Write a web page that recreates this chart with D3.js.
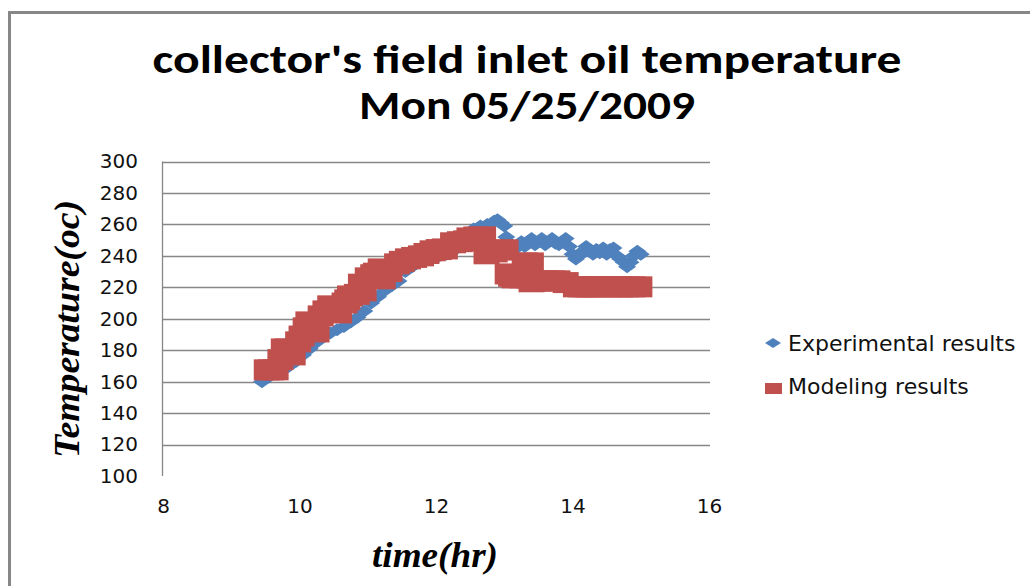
<!DOCTYPE html>
<html>
<head>
<meta charset="utf-8">
<script src="https://cdn.jsdelivr.net/npm/d3@7"></script>
<style>
  body { margin: 0; background: #fff; }
  .tick text { font-family: "DejaVu Sans", Verdana, sans-serif; font-size: 20px; fill: #111; }
</style>
</head>
<body>
<svg id="chart"></svg>
<script>
// chart text
const titleLines = ["collector's field inlet oil temperature", "Mon 05/25/2009"];
const xLabel = "time(hr)", yLabel = "Temperature(oc)";
const seriesNames = ["Experimental results", "Modeling results"];
const xTicks = [8, 10, 12, 14, 16];
const yTicks = [100, 120, 140, 160, 180, 200, 220, 240, 260, 280, 300];

const expTime = [9.45, 9.55, 9.65, 9.75, 9.85, 9.95, 10.05, 10.15, 10.25, 10.35, 10.45, 10.55, 10.65, 10.75,
  10.85, 10.95, 11.05, 11.15, 11.25, 11.35, 11.45, 11.55, 11.65, 11.75, 11.85, 11.95, 12.05, 12.15, 12.25,
  12.35, 12.45, 12.55, 12.65, 12.75, 12.85, 12.90, 12.95, 13.00, 13.03, 13.08, 13.10, 13.15, 13.20, 13.25,
  13.30, 13.35, 13.40, 13.45, 13.50, 13.55, 13.60, 13.65, 13.70, 13.75, 13.80, 13.85, 13.90, 13.95, 14.00,
  14.05, 14.10, 14.15, 14.20, 14.25, 14.30, 14.35, 14.40, 14.45, 14.50, 14.55, 14.60, 14.65, 14.70, 14.75,
  14.80, 14.85, 14.90, 14.95, 15.00];
const expTemp = [160, 163, 165, 167, 170, 173, 177, 181, 185, 189, 191, 193, 195, 198,
  201, 205, 210, 214, 218, 221, 224, 230, 233, 236, 238, 239, 240, 241, 243,
  247, 252, 257, 259, 260, 262, 263, 261, 259, 252, 248, 246, 244, 247, 249,
  246, 248, 251, 247, 249, 251, 247, 249, 251, 248, 247, 249, 251, 246, 241,
  238, 240, 243, 246, 243, 241, 244, 242, 245, 241, 244, 245, 240, 238, 236,
  233, 236, 240, 243, 241];

// Modeling results (red squares)
const modTime = [9.52, 9.58, 9.65, 9.72, 9.77, 9.83, 9.90, 9.98, 10.03, 10.09, 10.13, 10.18, 10.25, 10.31,
  10.38, 10.45, 10.50, 10.58, 10.66, 10.70, 10.74, 10.84, 10.90, 10.94, 11.00, 11.08, 11.12, 11.19, 11.22,
  11.32, 11.43, 11.50, 11.59, 11.68, 11.78, 11.86, 11.95, 12.04, 12.13, 12.25, 12.35, 12.44, 12.49, 12.59,
  12.69, 12.74, 12.86, 12.95, 13.02, 13.05, 13.10, 13.15, 13.26, 13.30, 13.37, 13.39, 13.40, 13.50, 13.60,
  13.70, 13.78, 13.90, 14.05, 14.12, 14.18, 14.24, 14.32, 14.42, 14.52, 14.62, 14.70, 14.79, 14.88, 14.98];
const modTemp = [167.5, 167.5, 167.5, 174.0, 180.8, 180.8, 177.0, 185.3, 189.0, 194.2, 198.0, 194.0, 191.6, 201.8,
  205.0, 208.2, 207.0, 203.7, 210.0, 212.0, 214.5, 215.5, 222.0, 217.7, 226.0, 228.0, 229.0, 231.7, 225.4,
  230.0, 234.9, 236.5, 238.1, 239.0, 240.0, 241.5, 243.2, 244.0, 244.4, 248.3, 249.0, 249.5, 251.4, 252.0,
  252.1, 241.3, 242.5, 243.8, 243.8, 228.5, 227.0, 226.0, 226.0, 235.5, 226.0, 235.5, 223.5, 224.0, 224.1,
  224.1, 224.1, 223.0, 220.3, 220.3, 220.3, 220.3, 220.3, 220.3, 220.3, 220.3, 220.3, 220.3, 220.3, 220.3];

const W = 1030, H = 586;
const blue = "#4F81BD", red = "#C0504D", grid = "#878787";

const svg = d3.select("#chart").attr("width", W).attr("height", H);
svg.append("rect").attr("width", W).attr("height", H).attr("fill", "#fff");

// outer chart border (only left and top edges are in frame)
svg.append("rect")
  .attr("x", 9.5).attr("y", 12.5)
  .attr("width", 1100).attr("height", 700)
  .attr("fill", "none").attr("stroke", grid).attr("stroke-width", 3);

const x = d3.scaleLinear().domain([8, 16]).range([163, 709]);
const y = d3.scaleLinear().domain([100, 300]).range([476, 161.5]);

// gridlines
svg.append("g").selectAll("line")
  .data(yTicks.filter(d => d > 100))
  .join("line")
  .attr("x1", 162).attr("x2", 710)
  .attr("y1", d => Math.round(y(d)) + 0.5).attr("y2", d => Math.round(y(d)) + 0.5)
  .attr("stroke", grid).attr("stroke-width", 1.3);

// vertical axis line
svg.append("line")
  .attr("x1", 162.5).attr("x2", 162.5)
  .attr("y1", y(300)).attr("y2", y(100))
  .attr("stroke", grid).attr("stroke-width", 1.3);

// axes labels
const yAxis = svg.append("g")
  .attr("transform", "translate(162,0)")
  .call(d3.axisLeft(y).tickValues(yTicks).tickSize(0).tickPadding(24));
yAxis.select(".domain").remove();

const xAxis = svg.append("g")
  .attr("transform", "translate(0,476)")
  .call(d3.axisBottom(x).tickValues(xTicks).tickSize(0).tickPadding(23));
xAxis.select(".domain").remove();

// experimental points as diamonds
const diamond = (w, h) => `M0,${-h / 2}L${w / 2},0L0,${h / 2}L${-w / 2},0Z`;
svg.append("g").selectAll("path")
  .data(expTime.map((t, i) => ({t: t, v: expTemp[i]})))
  .join("path")
  .attr("d", diamond(18, 13))
  .attr("transform", d => `translate(${x(d.t)},${y(d.v)})`)
  .attr("fill", blue);

// modeling points as squares
const sqW = 26, sqH = 21;
svg.append("g").selectAll("rect")
  .data(modTime.map((t, i) => ({t: t, v: modTemp[i]})))
  .join("rect")
  .attr("x", d => x(d.t) - sqW / 2).attr("y", d => y(d.v) - sqH / 2)
  .attr("width", sqW).attr("height", sqH)
  .attr("fill", red);

// title
svg.append("g").selectAll("text")
  .data(titleLines)
  .join("text")
  .attr("x", 527).attr("y", (d, i) => 73 + i * 46)
  .attr("text-anchor", "middle")
  .attr("font-family", "Carlito, Lato, 'Liberation Sans', sans-serif")
  .attr("font-weight", "bold")
  .attr("font-size", 40)
  .attr("textLength", (d, i) => i == 0 ? 749 : 336)
  .attr("lengthAdjust", "spacingAndGlyphs")
  .attr("fill", "#000")
  .text(d => d);

// axis titles
svg.append("text")
  .attr("x", 435).attr("y", 567)
  .attr("text-anchor", "middle")
  .attr("font-family", "'Liberation Serif', 'Times New Roman', serif")
  .attr("font-weight", "bold").attr("font-style", "italic")
  .attr("font-size", 36)
  .attr("textLength", 126).attr("lengthAdjust", "spacingAndGlyphs")
  .text(xLabel);

svg.append("text")
  .attr("transform", "translate(79,329) rotate(-90)")
  .attr("text-anchor", "middle")
  .attr("font-family", "'Liberation Serif', 'Times New Roman', serif")
  .attr("font-weight", "bold").attr("font-style", "italic")
  .attr("font-size", 36)
  .attr("textLength", 258).attr("lengthAdjust", "spacingAndGlyphs")
  .text(yLabel);

// legend
const legend = svg.append("g").attr("font-family", "'DejaVu Sans', Verdana, sans-serif").attr("font-size", 22);
legend.append("path").attr("d", diamond(16, 10)).attr("transform", "translate(773,343)").attr("fill", blue);
legend.append("rect").attr("x", 765).attr("y", 383).attr("width", 17).attr("height", 11).attr("fill", red);
legend.selectAll("text")
  .data(seriesNames)
  .join("text")
  .attr("x", 788).attr("y", (d, i) => 351 + i * 43)
  .attr("fill", "#111")
  .text(d => d);
</script>
</body>
</html>
